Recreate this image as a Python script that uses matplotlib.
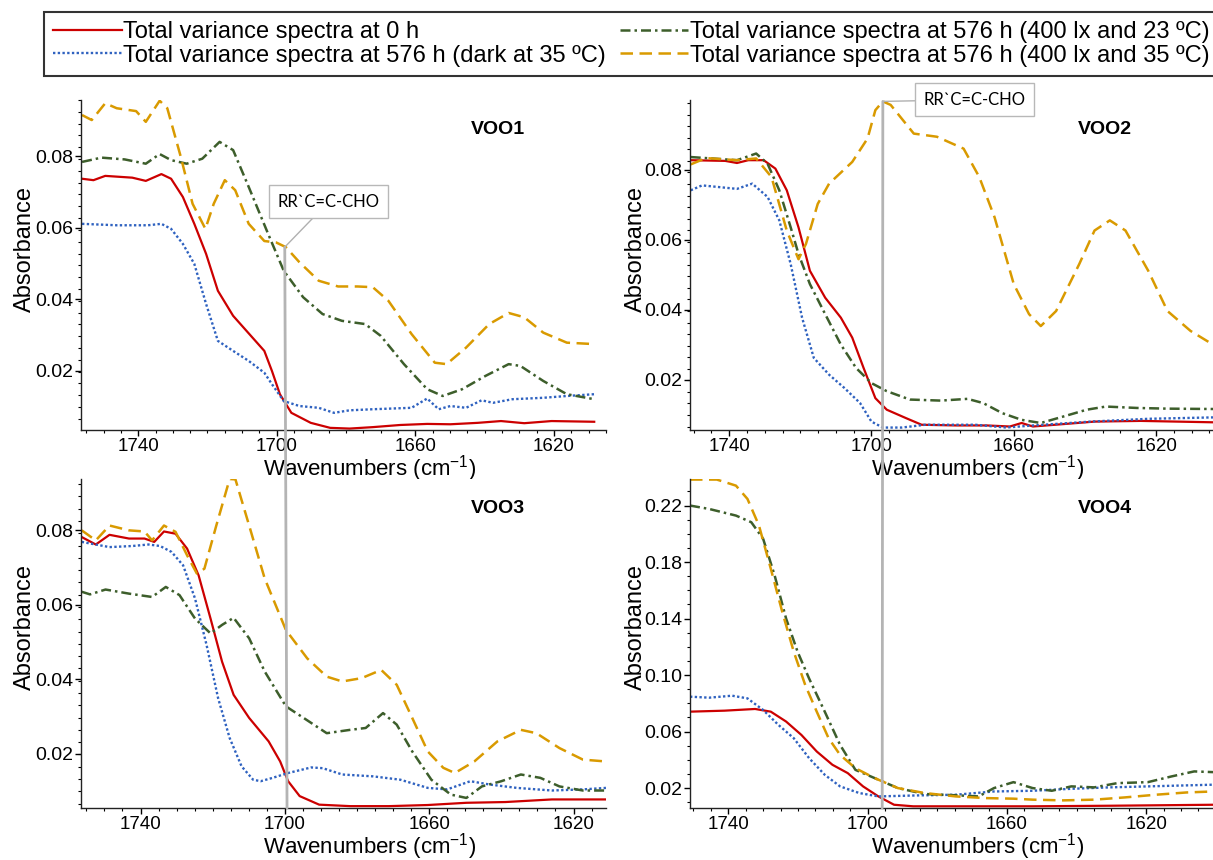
import numpy as np
import matplotlib
matplotlib.use('Agg')
import matplotlib.pyplot as plt
from matplotlib.ticker import FixedLocator, MultipleLocator, FormatStrFormatter
from matplotlib.patches import ConnectionPatch
from matplotlib import rcParams

rcParams['font.family'] = ['Liberation Sans', 'DejaVu Sans']
rcParams['mathtext.fontset'] = 'custom'
rcParams['mathtext.rm'] = 'Liberation Sans'
rcParams['mathtext.it'] = 'Liberation Sans:italic'
rcParams['mathtext.bf'] = 'Liberation Sans:bold'
rcParams['axes.linewidth'] = 1.0
rcParams['axes.edgecolor'] = '#222222'
rcParams['xtick.labelsize'] = 13.5
rcParams['ytick.labelsize'] = 14

## data: (wavenumber, absorbance)
series_labels = [
    'Total variance spectra at 0 h',
    'Total variance spectra at 576 h (dark at 35 ºC)',
    'Total variance spectra at 576 h (400 lx and 23 ºC)',
    'Total variance spectra at 576 h (400 lx and 35 ºC)',
]
panel_names = ['VOO1', 'VOO2', 'VOO3', 'VOO4']
wn_ticks = [1740, 1700, 1660, 1620]
annot_text = 'RR`C=C-CHO'

# VOO1
voo1_red = [(1756.2, 0.0737), (1752.9, 0.0733), (1749.5, 0.0745), (1741.7, 0.0740), (1737.8, 0.0731),
            (1733.3, 0.0750), (1730.5, 0.0737), (1727.1, 0.0686), (1723.8, 0.0611), (1720.4, 0.0527),
            (1717.0, 0.0424), (1712.6, 0.0354), (1707.0, 0.0293), (1703.6, 0.0256), (1701.4, 0.0200),
            (1699.1, 0.0135), (1695.8, 0.0083), (1690.2, 0.0055), (1684.6, 0.0041), (1679.0, 0.0039),
            (1672.3, 0.0043), (1664.4, 0.0049), (1656.6, 0.0052), (1649.9, 0.0051), (1642.0, 0.0055),
            (1635.3, 0.0060), (1628.6, 0.0054), (1620.7, 0.0060), (1608.4, 0.0058)]
voo1_blue = [(1756.2, 0.0611), (1746.2, 0.0607), (1737.2, 0.0607), (1733.3, 0.0611), (1730.5, 0.0597),
             (1727.1, 0.0555), (1723.8, 0.0499), (1720.4, 0.0387), (1717.0, 0.0284), (1712.6, 0.0256),
             (1708.1, 0.0228), (1703.6, 0.0195), (1701.4, 0.0163), (1698.0, 0.0116), (1693.5, 0.0102),
             (1687.9, 0.0097), (1683.5, 0.0083), (1679.0, 0.0090), (1672.3, 0.0093), (1661.1, 0.0097),
             (1656.6, 0.0123), (1653.3, 0.0093), (1649.9, 0.0102), (1645.4, 0.0097), (1640.9, 0.0118),
             (1637.6, 0.0111), (1632.0, 0.0121), (1623.1, 0.0125), (1616.3, 0.0130), (1608.4, 0.0135)]
voo1_green = [(1756.2, 0.0784), (1750.6, 0.0796), (1743.9, 0.0791), (1737.8, 0.0779), (1733.8, 0.0806),
              (1730.5, 0.0789), (1726.0, 0.0779), (1721.5, 0.0793), (1716.5, 0.0840), (1712.6, 0.0817),
              (1708.1, 0.0714), (1702.5, 0.0583), (1698.0, 0.0480), (1692.4, 0.0406), (1686.8, 0.0359),
              (1681.2, 0.0340), (1674.5, 0.0331), (1670.0, 0.0298), (1663.3, 0.0219), (1656.6, 0.0149),
              (1652.1, 0.0130), (1646.5, 0.0149), (1639.8, 0.0186), (1633.1, 0.0219), (1629.7, 0.0214),
              (1623.1, 0.0172), (1616.3, 0.0135), (1608.4, 0.0121)]
voo1_orange = [(1756.2, 0.0915), (1753.4, 0.0901), (1749.5, 0.0948), (1746.2, 0.0934), (1740.6, 0.0926),
               (1737.8, 0.0896), (1733.8, 0.0955), (1731.6, 0.0934), (1727.7, 0.0798), (1724.3, 0.0667),
               (1720.6, 0.0597), (1718.2, 0.0667), (1715.0, 0.0733), (1712.0, 0.0705), (1708.1, 0.0611),
               (1703.6, 0.0563), (1700.2, 0.0559), (1697.4, 0.0546), (1693.5, 0.0504), (1687.9, 0.0452),
               (1682.3, 0.0436), (1676.7, 0.0436), (1672.3, 0.0434), (1667.8, 0.0396), (1661.1, 0.0303),
               (1654.4, 0.0223), (1651.0, 0.0219), (1645.4, 0.0265), (1638.7, 0.0331), (1633.1, 0.0362),
               (1628.6, 0.0350), (1623.1, 0.0307), (1616.3, 0.0279), (1608.4, 0.0275)]

# VOO2
voo2_red = [(1750.8, 0.0827), (1741.1, 0.0825), (1737.8, 0.0819), (1734.6, 0.0827), (1730.3, 0.0827),
            (1727.0, 0.0803), (1723.8, 0.0741), (1720.5, 0.0635), (1717.3, 0.0511), (1713.0, 0.0434),
            (1708.6, 0.0377), (1705.4, 0.0320), (1702.2, 0.0233), (1698.9, 0.0147), (1695.7, 0.0114),
            (1690.3, 0.0090), (1685.9, 0.0071), (1676.2, 0.0069), (1667.6, 0.0069), (1661.1, 0.0066),
            (1657.8, 0.0076), (1654.6, 0.0066), (1645.9, 0.0073), (1637.3, 0.0080), (1624.3, 0.0082),
            (1604.0, 0.0078)]
voo2_blue = [(1750.8, 0.0741), (1747.6, 0.0755), (1737.8, 0.0745), (1733.5, 0.0760), (1729.2, 0.0722),
             (1725.9, 0.0655), (1722.7, 0.0530), (1719.5, 0.0377), (1716.2, 0.0262), (1711.9, 0.0214),
             (1707.6, 0.0176), (1703.2, 0.0133), (1700.0, 0.0080), (1696.8, 0.0063), (1691.4, 0.0063),
             (1684.9, 0.0071), (1670.8, 0.0071), (1662.2, 0.0063), (1654.6, 0.0069), (1638.4, 0.0080),
             (1622.2, 0.0088), (1604.0, 0.0092)]
voo2_green = [(1750.8, 0.0836), (1737.8, 0.0827), (1732.4, 0.0846), (1729.2, 0.0817), (1725.9, 0.0741),
              (1722.7, 0.0635), (1720.5, 0.0559), (1717.3, 0.0473), (1713.0, 0.0387), (1708.6, 0.0300),
              (1704.3, 0.0233), (1700.0, 0.0190), (1695.7, 0.0167), (1689.2, 0.0143), (1680.5, 0.0140),
              (1673.0, 0.0145), (1668.6, 0.0133), (1663.2, 0.0104), (1657.8, 0.0085), (1652.4, 0.0076),
              (1645.9, 0.0095), (1639.5, 0.0114), (1634.1, 0.0123), (1625.4, 0.0119), (1616.8, 0.0117),
              (1604.0, 0.0116)]
voo2_orange = [(1750.8, 0.0815), (1746.5, 0.0833), (1737.8, 0.0827), (1732.4, 0.0832), (1728.1, 0.0779),
               (1723.8, 0.0626), (1720.5, 0.0544), (1718.4, 0.0588), (1715.1, 0.0702), (1711.9, 0.0760),
               (1705.4, 0.0822), (1701.1, 0.0889), (1698.9, 0.0970), (1696.8, 0.0995), (1694.6, 0.0985),
               (1688.1, 0.0903), (1681.6, 0.0894), (1674.1, 0.0860), (1669.7, 0.0779), (1665.4, 0.0664),
               (1660.0, 0.0473), (1655.7, 0.0387), (1652.4, 0.0353), (1648.1, 0.0396), (1641.6, 0.0530),
               (1637.3, 0.0626), (1633.0, 0.0655), (1628.6, 0.0626), (1622.2, 0.0511), (1616.8, 0.0396),
               (1610.3, 0.0339), (1604.0, 0.0300)]

# VOO3
voo3_red = [(1756.3, 0.0782), (1752.4, 0.0762), (1748.6, 0.0788), (1743.2, 0.0778), (1738.9, 0.0778),
            (1736.2, 0.0769), (1733.5, 0.0797), (1730.3, 0.0791), (1727.1, 0.0751), (1723.9, 0.0679),
            (1720.6, 0.0563), (1717.4, 0.0447), (1714.2, 0.0358), (1709.9, 0.0296), (1704.5, 0.0233),
            (1701.3, 0.0179), (1699.1, 0.0126), (1695.9, 0.0086), (1690.5, 0.0063), (1681.9, 0.0059),
            (1671.2, 0.0059), (1660.4, 0.0062), (1649.7, 0.0068), (1638.9, 0.0070), (1626.0, 0.0077),
            (1611.0, 0.0077)]
voo3_blue = [(1756.3, 0.0769), (1748.6, 0.0755), (1742.2, 0.0758), (1737.8, 0.0762), (1734.6, 0.0758),
             (1731.4, 0.0742), (1728.2, 0.0706), (1724.9, 0.0617), (1721.7, 0.0492), (1718.5, 0.0349),
             (1715.3, 0.0242), (1712.0, 0.0166), (1708.8, 0.0130), (1706.7, 0.0126), (1703.4, 0.0135),
             (1699.1, 0.0148), (1692.7, 0.0163), (1689.5, 0.0161), (1684.1, 0.0144), (1675.5, 0.0139),
             (1668.0, 0.0130), (1660.4, 0.0108), (1655.0, 0.0104), (1648.6, 0.0126), (1643.2, 0.0117),
             (1635.7, 0.0108), (1626.0, 0.0101), (1617.4, 0.0104), (1611.0, 0.0108)]
voo3_green = [(1756.3, 0.0635), (1754.0, 0.0628), (1749.7, 0.0641), (1743.2, 0.0630), (1736.8, 0.0621),
              (1733.0, 0.0648), (1729.2, 0.0626), (1724.9, 0.0563), (1720.6, 0.0523), (1717.4, 0.0546),
              (1714.2, 0.0565), (1709.9, 0.0510), (1705.6, 0.0421), (1699.7, 0.0327), (1694.8, 0.0296),
              (1688.4, 0.0255), (1681.9, 0.0264), (1677.6, 0.0269), (1672.8, 0.0309), (1669.0, 0.0278),
              (1664.7, 0.0206), (1659.4, 0.0130), (1654.0, 0.0090), (1649.7, 0.0081), (1645.4, 0.0112),
              (1640.0, 0.0126), (1634.6, 0.0144), (1629.2, 0.0135), (1623.9, 0.0112), (1617.4, 0.0101),
              (1611.0, 0.0101)]
voo3_orange = [(1756.3, 0.0800), (1752.4, 0.0773), (1748.6, 0.0813), (1743.2, 0.0800), (1738.9, 0.0797),
               (1736.8, 0.0773), (1733.5, 0.0813), (1730.3, 0.0796), (1727.1, 0.0733), (1724.4, 0.0684),
               (1722.3, 0.0697), (1719.0, 0.0813), (1715.3, 0.0938), (1713.7, 0.0937), (1709.9, 0.0813),
               (1705.6, 0.0671), (1699.7, 0.0532), (1693.8, 0.0456), (1688.4, 0.0407), (1684.1, 0.0394),
               (1678.7, 0.0403), (1673.3, 0.0425), (1669.0, 0.0385), (1664.7, 0.0296), (1660.4, 0.0206),
               (1656.1, 0.0162), (1652.9, 0.0148), (1647.5, 0.0179), (1641.1, 0.0233), (1634.6, 0.0264),
               (1630.3, 0.0255), (1623.9, 0.0215), (1617.4, 0.0184), (1611.0, 0.0179)]

# VOO4
voo4_red = [(1751.0, 0.0741), (1741.1, 0.0748), (1732.3, 0.0760), (1727.8, 0.0741), (1723.4, 0.0671),
            (1719.0, 0.0576), (1714.6, 0.0459), (1710.1, 0.0365), (1705.7, 0.0306), (1701.3, 0.0212),
            (1696.9, 0.0141), (1692.4, 0.0082), (1686.9, 0.0071), (1674.7, 0.0071), (1652.6, 0.0071),
            (1630.5, 0.0075), (1600.8, 0.0082)]
voo4_blue = [(1751.0, 0.0847), (1745.5, 0.0840), (1738.9, 0.0854), (1734.5, 0.0835), (1730.0, 0.0753),
             (1725.6, 0.0647), (1721.2, 0.0553), (1716.8, 0.0412), (1712.3, 0.0294), (1707.9, 0.0212),
             (1702.4, 0.0165), (1696.9, 0.0141), (1685.8, 0.0148), (1674.7, 0.0153), (1663.7, 0.0176),
             (1652.6, 0.0181), (1641.5, 0.0195), (1630.5, 0.0205), (1619.5, 0.0212), (1600.8, 0.0224)]
voo4_green = [(1751.0, 0.2200), (1745.5, 0.2176), (1737.8, 0.2129), (1733.4, 0.2082), (1730.0, 0.1965),
              (1726.7, 0.1706), (1723.4, 0.1400), (1720.1, 0.1165), (1716.8, 0.0976), (1712.3, 0.0741),
              (1707.9, 0.0506), (1703.5, 0.0329), (1698.0, 0.0271), (1691.3, 0.0200), (1683.6, 0.0158),
              (1674.7, 0.0149), (1668.1, 0.0141), (1663.7, 0.0200), (1658.1, 0.0242), (1652.6, 0.0200),
              (1647.1, 0.0181), (1641.5, 0.0212), (1634.9, 0.0205), (1628.3, 0.0235), (1619.5, 0.0242),
              (1612.8, 0.0282), (1606.2, 0.0318), (1600.8, 0.0313)]
voo4_orange = [(1751.0, 0.2384), (1743.3, 0.2384), (1737.8, 0.2341), (1734.5, 0.2247), (1731.2, 0.2059),
               (1727.8, 0.1753), (1724.5, 0.1447), (1721.2, 0.1165), (1717.9, 0.0929), (1714.6, 0.0741),
               (1711.2, 0.0553), (1707.9, 0.0435), (1703.5, 0.0341), (1698.0, 0.0271), (1691.3, 0.0200),
               (1683.6, 0.0165), (1674.7, 0.0141), (1665.9, 0.0129), (1658.1, 0.0125), (1652.6, 0.0118),
               (1643.8, 0.0113), (1634.9, 0.0118), (1626.1, 0.0134), (1617.2, 0.0153), (1608.4, 0.0169),
               (1600.8, 0.0176)]

# marked band (wavenumber, absorbance at the pointed curve)
voo1_mark = (1697.7, 0.0546)
voo2_mark = (1696.8, 0.0995)
voo3_mark_wn = 1699.4
voo4_mark_wn = 1695.8

## styles
colors = ['#cc0000', '#2f62c0', '#3d5e2b', '#d99a00']
styles = ['-', (0, (1, 1)), (0, (4, 1.6, 1, 1.6)), (0, (5, 2.6))]
widths = [1.6, 1.7, 1.8, 1.8]

fig = plt.figure(figsize=(12.13, 8.6), dpi=100)
W, H = 1213., 860.

def px_axes(l, t, r, b):
    return fig.add_axes([l / W, 1 - b / H, (r - l) / W, (b - t) / H])

ax1 = px_axes(81, 100, 606, 430)
ax2 = px_axes(690, 100, 1213, 430)
ax3 = px_axes(81, 479, 606, 808)
ax4 = px_axes(690, 479, 1213, 808)
axes = [ax1, ax2, ax3, ax4]

panel_data = [
    [voo1_red, voo1_blue, voo1_green, voo1_orange],
    [voo2_red, voo2_blue, voo2_green, voo2_orange],
    [voo3_red, voo3_blue, voo3_green, voo3_orange],
    [voo4_red, voo4_blue, voo4_green, voo4_orange],
]
xlims = [(1756.5, 1605), (1751, 1604), (1756.5, 1611), (1751, 1600.8)]
ylims = [(0.0035, 0.0957), (0.0056, 0.0999), (0.0054, 0.0938), (0.0059, 0.2388)]
yticks = [[0.02, 0.04, 0.06, 0.08]] * 3 + [[0.02, 0.06, 0.10, 0.14, 0.18, 0.22]]
yminor = [0.0033, 0.0033, 0.0033, 0.01]
ylab_x = [-0.085, -0.083, -0.085, -0.083]

handles = []
for k, ax in enumerate(axes):
    for s, pts in enumerate(panel_data[k]):
        arr = np.array(pts)
        ln, = ax.plot(arr[:, 0], arr[:, 1], color=colors[s], ls=styles[s], lw=widths[s],
                      solid_joinstyle='round', dash_joinstyle='round')
        if k == 0:
            handles.append(ln)
    ax.set_xlim(*xlims[k])
    ax.set_ylim(*ylims[k])
    ax.xaxis.set_major_locator(FixedLocator(wn_ticks))
    ax.xaxis.set_minor_locator(MultipleLocator(5))
    ax.yaxis.set_major_locator(FixedLocator(yticks[k]))
    ax.yaxis.set_minor_locator(MultipleLocator(yminor[k]))
    ax.yaxis.set_major_formatter(FormatStrFormatter('%.2f'))
    ax.spines['top'].set_visible(False)
    ax.spines['right'].set_visible(False)
    ax.tick_params(which='major', length=4, width=1, pad=1.5)
    ax.tick_params(which='minor', length=2, width=0.8)
    ax.set_xlabel('Wavenumbers (cm$^{-1}$)', fontsize=16)
    ax.xaxis.set_label_coords(0.55, -0.069)
    ax.set_ylabel('Absorbance', fontsize=17)
    ax.yaxis.set_label_coords(ylab_x[k], 0.55)
    ax.text(0.845, 0.91, panel_names[k], transform=ax.transAxes, ha='right', va='center',
            fontsize=14, fontweight='bold')

# grey marker lines running from the top panels down through the bottom ones
for axt, axb, mark, wn_b in [(ax1, ax3, voo1_mark, voo3_mark_wn), (ax2, ax4, voo2_mark, voo4_mark_wn)]:
    con = ConnectionPatch(xyA=mark, coordsA=axt.transData,
                          xyB=(wn_b, axb.get_ylim()[0]), coordsB=axb.transData,
                          color='#b4b4b4', lw=2, zorder=3)
    fig.add_artist(con)

box = dict(boxstyle='square,pad=0.5', fc='white', ec='#b8b8b8', lw=1)
ax1.annotate(annot_text, xy=voo1_mark, xytext=(1685, 0.0673), ha='center', va='center',
             fontsize=12, family='Lato', bbox=box,
             arrowprops=dict(arrowstyle='-', color='#b0b0b0', lw=1, shrinkA=0, shrinkB=0))
ax2.annotate(annot_text, xy=voo2_mark, xytext=(1671, 0.1000), ha='center', va='center',
             fontsize=12, family='Lato', bbox=box, annotation_clip=False,
             arrowprops=dict(arrowstyle='-', color='#b0b0b0', lw=1, shrinkA=0, shrinkB=0))

leg = fig.legend(handles, series_labels, loc='upper left', bbox_to_anchor=(44 / W, 1 - 12 / H),
                 ncol=2, fontsize=17, frameon=True, fancybox=False, edgecolor='black',
                 borderaxespad=0, borderpad=0.4, labelspacing=0.05, handlelength=2.9,
                 handletextpad=0.05, columnspacing=0.6)
leg.get_frame().set_linewidth(1.5)

fig.savefig('out.png', dpi=100)
